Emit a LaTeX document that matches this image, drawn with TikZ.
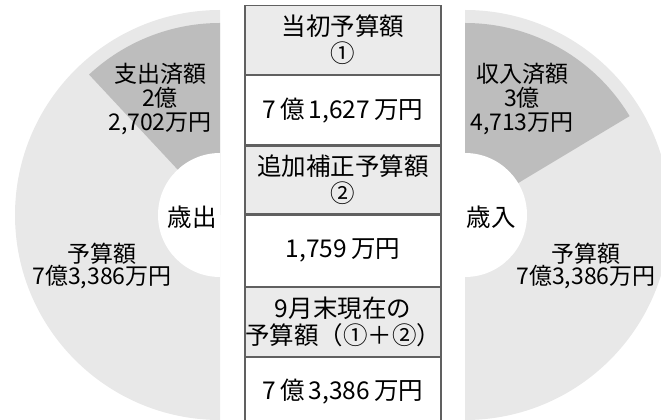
\documentclass[tikz,border=0pt]{standalone}
\usepackage{fontspec}
\setmainfont{Noto Sans CJK JP}
\definecolor{lg}{HTML}{E8E8E8}
\definecolor{dg}{HTML}{BDBDBD}
\definecolor{tg}{HTML}{EBEBEB}
\definecolor{bd}{HTML}{606060}
\newcommand{\gp}{\hspace{4pt}}
\begin{document}
\begin{tikzpicture}[x=1pt,y=1pt,
  cell/.style={draw=bd, line width=1.2pt, minimum width=196pt, inner sep=0pt, align=center,
    font=\fontsize{24.5}{27}\selectfont, anchor=north},
  lbl/.style={align=center, font=\fontsize{23}{24}\selectfont, inner sep=0pt}]
\useasboundingbox (0,0) rectangle (661,420);
\clip (0,0) rectangle (661,420);
% left half donut (expenditure)
\coordinate (lc) at (220,205);
\fill[lg] (lc) -- ++(90:205) arc[start angle=90, end angle=270, radius=205] -- cycle;
\fill[dg] (lc) -- ++(90:192) arc[start angle=90, end angle=133, radius=192] -- cycle;
\fill[white] (lc) -- ++(90:62) arc[start angle=90, end angle=270, radius=62] -- cycle;
% right half donut (revenue)
\coordinate (rc) at (465,205);
\fill[lg] (rc) -- ++(-90:205) arc[start angle=-90, end angle=90, radius=205] -- cycle;
\fill[dg] (rc) -- ++(31:192) arc[start angle=31, end angle=90, radius=192] -- cycle;
\fill[white] (rc) -- ++(-90:62) arc[start angle=-90, end angle=90, radius=62] -- cycle;
% labels
\node[lbl] (ldone) at (160,321) {支出済額\\2億\\2,702万円};
\node[lbl, font=\fontsize{24.5}{24}\selectfont] (lname) at (192,203) {歳出};
\node[lbl, font=\fontsize{23}{22}\selectfont] (lbud) at (102,154) {予算額\\7億3,386万円};
\node[lbl] (rdone) at (522,321) {収入済額\\3億\\4,713万円};
\node[lbl, font=\fontsize{24.5}{24}\selectfont] (rname) at (491,203) {歳入};
\node[lbl, font=\fontsize{23}{22}\selectfont] (rbud) at (586,154) {予算額\\7億3,386万円};
% table
\node[cell, fill=tg, minimum height=69pt] (t1) at (343,415) {当初予算額\\①};
\node[cell, fill=white, minimum height=69pt] (t2) at (t1.south) {7\gp 億\gp 1,627\gp 万円};
\node[cell, fill=tg, minimum height=68pt] (t3) at (t2.south) {追加補正予算額\\②};
\node[cell, fill=white, minimum height=71pt] (t4) at (t3.south) {1,759\gp 万円};
\node[cell, fill=tg, minimum height=69pt] (t5) at (t4.south) {9月末現在の\\予算額（①＋②）};
\node[cell, fill=white, minimum height=67pt] (t6) at (t5.south) {7\gp 億\gp 3,386\gp 万円};
\end{tikzpicture}
\end{document}
